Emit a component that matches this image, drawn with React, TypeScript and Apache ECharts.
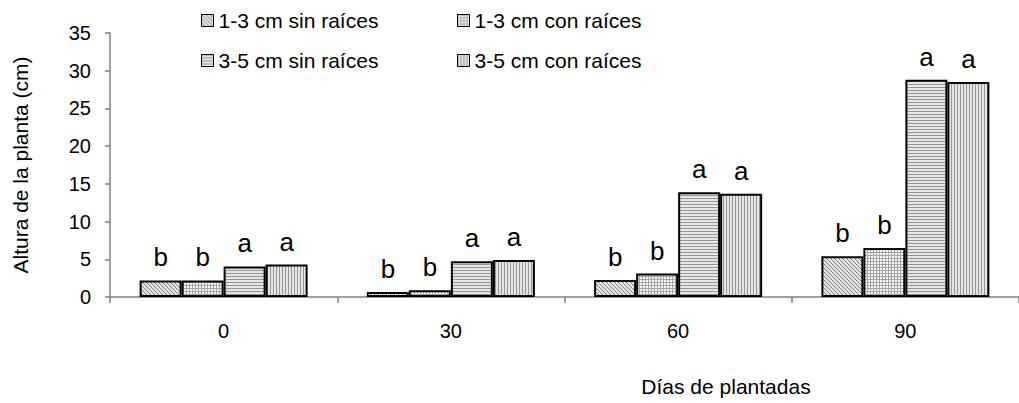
import React, { useEffect, useRef } from "react";
import * as echarts from "echarts";

const categories = ["0", "30", "60", "90"];
const seriesNames = [
  "1-3 cm sin raíces",
  "1-3 cm con raíces",
  "3-5 cm sin raíces",
  "3-5 cm con raíces",
];
const s13sin = [2.2, 0.65, 2.25, 5.4];
const s13con = [2.2, 0.9, 3.1, 6.5];
const s35sin = [4.05, 4.75, 13.9, 28.8];
const s35con = [4.3, 4.9, 13.7, 28.5];
const letras13sin = ["b", "b", "b", "b"];
const letras13con = ["b", "b", "b", "b"];
const letras35sin = ["a", "a", "a", "a"];
const letras35con = ["a", "a", "a", "a"];
const yTicks = { min: 0, max: 35, interval: 5 };

const FONT = "'Liberation Sans', Arial, sans-serif";

function makePattern(w: number, h: number, fn: (x: number, y: number) => number) {
  const c = document.createElement("canvas");
  c.width = w;
  c.height = h;
  const ctx = c.getContext("2d")!;
  const img = ctx.createImageData(w, h);
  for (let y = 0; y < h; y++) {
    for (let x = 0; x < w; x++) {
      const v = fn(x, y);
      const i = (y * w + x) * 4;
      img.data[i] = v;
      img.data[i + 1] = v;
      img.data[i + 2] = v;
      img.data[i + 3] = 255;
    }
  }
  ctx.putImageData(img, 0, 0);
  return { image: c.toDataURL(), repeat: "repeat", imageWidth: w, imageHeight: h } as any;
}

export default function App() {
  const ref = useRef<HTMLDivElement>(null);
  useEffect(() => {
    if (!ref.current) return;
    const chart = echarts.init(ref.current, null, { renderer: "svg" });
    const patterns = [
      makePattern(4, 4, (x, y) => ((x - y + 4) % 4 === 0 ? 130 : 228)),
      makePattern(3, 3, (x, y) => (x === 0 || y === 0 ? 165 : 248)),
      makePattern(3, 3, (x, y) => (y % 3 === 0 ? 150 : 230)),
      makePattern(3, 3, (x, y) => (x % 3 === 0 ? 150 : 230)),
    ];
    const datas = [s13sin, s13con, s35sin, s35con];
    const letras = [letras13sin, letras13con, letras35sin, letras35con];
    const series = seriesNames.map((name, k) => ({
      name,
      type: "bar",
      data: datas[k],
      barWidth: 42,
      barGap: "0%",
      itemStyle: { color: patterns[k], borderColor: "#000", borderWidth: 2 },
      label: {
        show: true,
        position: "top",
        distance: 10,
        formatter: (p: any) => letras[k][p.dataIndex],
        color: "#000",
        fontSize: 26,
        fontFamily: FONT,
      },
    }));
    const legendCommon = {
      orient: "vertical",
      top: 5,
      itemWidth: 12,
      itemHeight: 12,
      itemGap: 19,
      icon: "rect",
      textStyle: { fontSize: 21, fontFamily: FONT, color: "#000" },
      itemStyle: { borderColor: "#000", borderWidth: 1 },
    };
    chart.setOption({
      animation: false,
      textStyle: { fontFamily: FONT },
      grid: { left: 110, top: 33, width: 914, height: 264, containLabel: false },
      legend: [
        { ...legendCommon, left: 196, data: [seriesNames[0], seriesNames[2]] },
        { ...legendCommon, left: 452, data: [seriesNames[1], seriesNames[3]] },
      ],
      xAxis: {
        type: "category",
        data: categories,
        axisLine: { lineStyle: { color: "#808080", width: 1.5 } },
        axisTick: { show: true, length: 6, lineStyle: { color: "#808080", width: 1.5 } },
        axisLabel: { color: "#000", fontSize: 20, fontFamily: FONT, margin: 24 },
      },
      yAxis: {
        type: "value",
        min: yTicks.min,
        max: yTicks.max,
        interval: yTicks.interval,
        name: "Altura de la planta (cm)",
        nameLocation: "middle",
        nameGap: 79,
        nameTextStyle: { color: "#000", fontSize: 21, fontFamily: FONT },
        axisLine: { show: true, lineStyle: { color: "#808080", width: 1.5 } },
        axisTick: { show: true, length: 5, lineStyle: { color: "#808080", width: 1.5 } },
        axisLabel: { color: "#000", fontSize: 20, fontFamily: FONT, margin: 19 },
        splitLine: { show: false },
      },
      graphic: [
        {
          type: "text",
          x: 726,
          y: 386,
          style: {
            text: "Días de plantadas",
            fill: "#000",
            font: `21px ${FONT}`,
            textAlign: "center",
            textVerticalAlign: "middle",
          },
        },
      ],
      series,
    });
    return () => chart.dispose();
  }, []);
  return (
    <div
      ref={ref}
      style={{ position: "fixed", left: 0, top: 0, width: 1019, height: 403, background: "#fff" }}
    />
  );
}
